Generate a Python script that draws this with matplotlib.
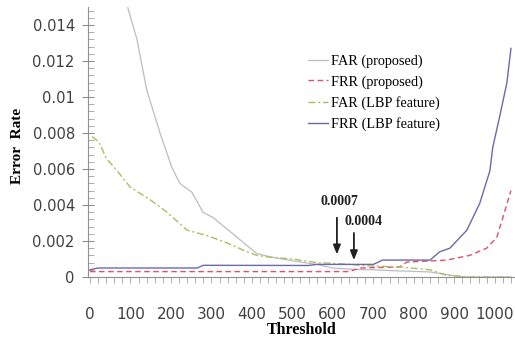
import matplotlib
matplotlib.use("Agg")
import matplotlib.pyplot as plt
from matplotlib.ticker import MultipleLocator

# FAR (proposed)
far_p_t = [60, 94, 116, 140, 173, 202, 222, 252, 279, 304, 353, 412, 450, 500, 560, 600, 652, 700, 750, 840, 889, 930, 1040]
far_p_v = [0.019, 0.0149, 0.0132, 0.0104, 0.0080, 0.0061, 0.0052, 0.0047, 0.0036, 0.0033, 0.0024, 0.0013,
           0.0011, 0.0009, 0.0007, 0.0005, 0.00042, 0.0004, 0.00035, 0.00028, 0.00011, 0.0, 0.0]
# FRR (proposed)
frr_p_t = [0, 640, 667, 765, 783, 840, 881, 938, 980, 1005, 1020, 1040]
frr_p_v = [0.0003, 0.0003, 0.0005, 0.00056, 0.00083, 0.00089, 0.00094, 0.0012, 0.0016, 0.0022, 0.0033, 0.0048]
# FAR (LBP feature)
far_l_t = [5, 22, 40, 67, 99, 148, 190, 240, 289, 338, 388, 412, 444, 500, 560, 610, 700, 765, 840, 880, 930, 1040]
far_l_v = [0.0078, 0.0075, 0.0066, 0.0059, 0.0050, 0.0043, 0.0036, 0.0026, 0.0023, 0.0019, 0.0014, 0.0012,
           0.0011, 0.0010, 0.0008, 0.00075, 0.0006, 0.00056, 0.0004, 0.0001, 0.0, 0.0]
# FRR (LBP feature)
frr_l_t = [0, 20, 265, 280, 540, 560, 700, 723, 840, 864, 889, 931, 963, 988, 995, 1012, 1030, 1040]
frr_l_v = [0.0004, 0.0005, 0.0005, 0.00065, 0.00064, 0.0007, 0.0007, 0.00094, 0.00094, 0.0014, 0.0016,
           0.0026, 0.0041, 0.0059, 0.0072, 0.0089, 0.0108, 0.0127]

labels = ["FAR (proposed)", "FRR (proposed)", "FAR (LBP feature)", "FRR (LBP feature)"]
annot_text = ["0.0007", "0.0004"]
annot_tip = [(610, 0.0011), (652, 0.00078)]
annot_tail = [(610, 0.00345), (652, 0.0026)]
annot_pos = [(617, 0.00417), (676, 0.0031)]

fig = plt.figure(figsize=(5.15, 3.41), dpi=100)
ax = fig.add_axes([88/515, 64/341, 427/515, 270/341])

ax.plot(far_p_t, far_p_v, color="#bcbcc4", lw=0.9, label=labels[0])
ax.plot(frr_p_t, frr_p_v, color="#e0506a", lw=1.0, ls=(0, (4, 2.5)), label=labels[1])
ax.plot(far_l_t, far_l_v, color="#a8c060", lw=1.0, ls=(0, (5, 2, 1.5, 2)), label=labels[2])
ax.plot(frr_l_t, frr_l_v, color="#6a6aaa", lw=1.0, label=labels[3])

ax.set_xlim(-5, 1050)
ax.set_ylim(0, 0.015)
ax.xaxis.set_major_locator(MultipleLocator(100))
ax.xaxis.set_minor_locator(MultipleLocator(20))
ax.yaxis.set_minor_locator(MultipleLocator(0.0004))
ax.set_yticks([0, 0.002, 0.004, 0.006, 0.008, 0.01, 0.012, 0.014])
ax.set_yticklabels(["0", "0.002", "0.004", "0.006", "0.008", "0.01", "0.012", "0.014"])

for s in ["top", "right"]:
    ax.spines[s].set_visible(False)
for s in ["left", "bottom"]:
    ax.spines[s].set_color("#909090")
    ax.spines[s].set_linewidth(0.8)

ax.tick_params(axis="y", which="major", direction="inout", length=9, width=0.8, color="#909090",
               labelsize=10.6, labelcolor="#404040", pad=5)
ax.tick_params(axis="y", which="minor", direction="in", length=4, width=0.6, color="#a0a0a0")
ax.tick_params(axis="x", which="both", direction="out", length=4, width=0.6, color="#a0a0a0",
               labelsize=11, labelcolor="#404040", pad=17.5)
for lab in ax.get_xticklabels() + ax.get_yticklabels():
    lab.set_family("DejaVu Sans")

ax.set_xlabel("Threshold", family="Liberation Serif", fontweight="bold", fontsize=11.5, labelpad=0)
ax.set_ylabel("Error  Rate", family="Liberation Serif", fontweight="bold", fontsize=11)
ax.yaxis.set_label_coords(-0.15, 0.485)

leg = ax.legend(loc="upper left", bbox_to_anchor=(0.515, 0.825), frameon=False,
                prop={"family": "Liberation Serif", "size": 10.3},
                handlelength=1.4, handletextpad=0.2, labelspacing=0.52, borderpad=0, borderaxespad=0)

for txt, tip, tail, pos in zip(annot_text, annot_tip, annot_tail, annot_pos):
    ax.annotate("", xy=tip, xytext=tail,
                arrowprops=dict(arrowstyle="-|>,head_length=0.55,head_width=0.22", color="#202020", lw=1.3))
    ax.text(pos[0], pos[1], txt, ha="center", va="center", family="Liberation Serif",
            fontweight="bold", fontsize=10, color="#202020")

fig.savefig("out.png", dpi=100)
